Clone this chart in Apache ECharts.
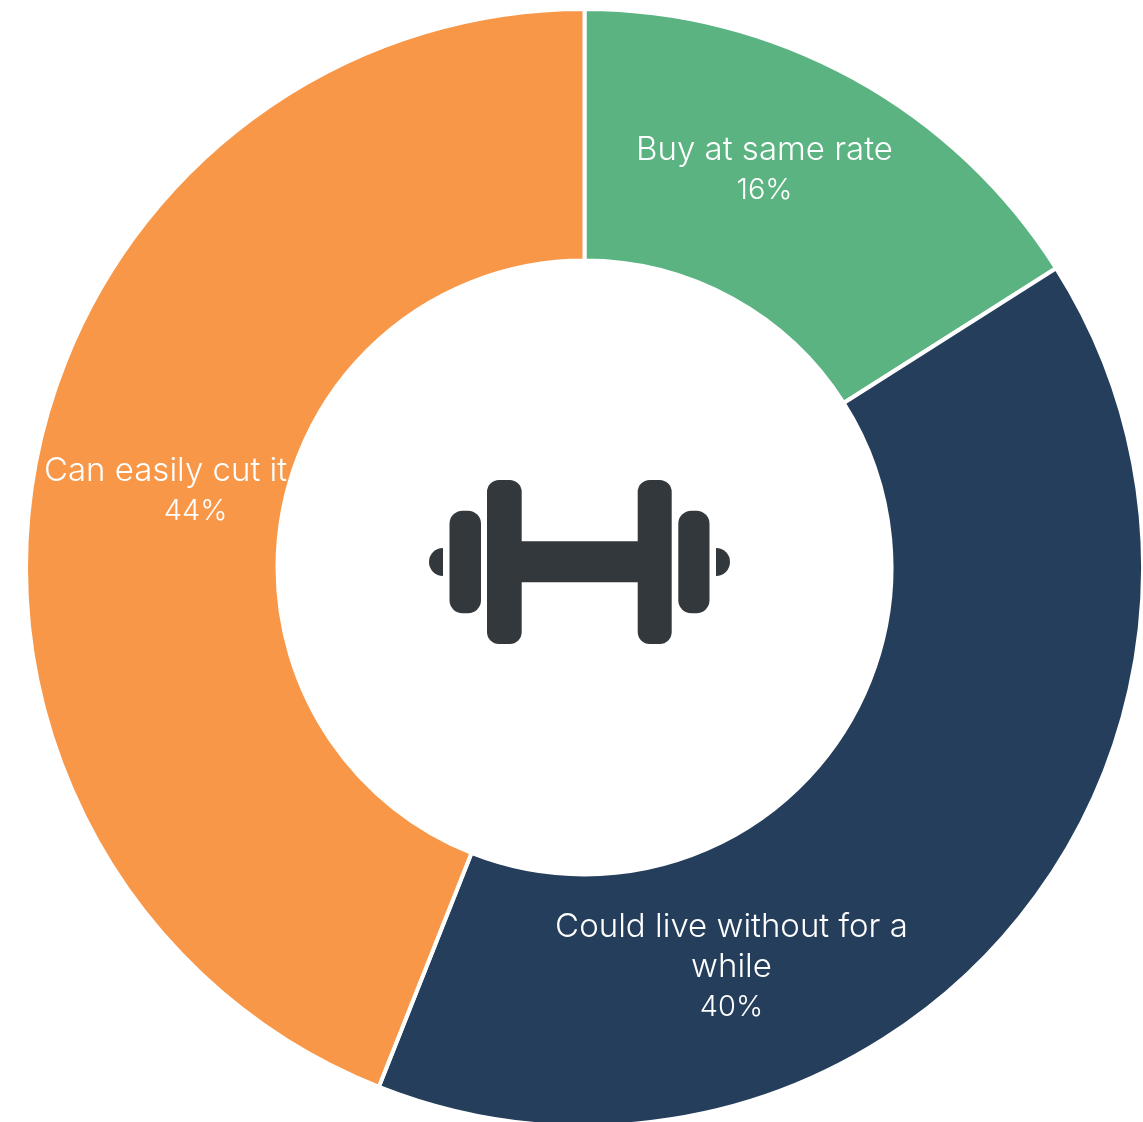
<!DOCTYPE html>
<html>
<head>
<meta charset="utf-8">
<style>html,body{margin:0;padding:0;background:#fff}#c{width:1143px;height:1122px}</style>
<script src="https://cdn.jsdelivr.net/npm/echarts@6/dist/echarts.min.js"></script>
</head>
<body>
<div id="c"></div>
<script>
const categories = ['Buy at same rate', 'Could live without for a\nwhile', 'Can easily cut it'];
const shares = [16, 40, 44];
const colors = ['#5BB381', '#243E5B', '#F89748'];
const labelCentres = [[764.5, 170.5], [731.5, 967.5], [165.5, 491]];
const iconColor = '#33383C';

const chart = echarts.init(document.getElementById('c'), null, {renderer: 'canvas'});
const font = {fontFamily: 'Inter', fontWeight: 300, fontSize: 33, lineHeight: 40, color: '#fff'};
const plate = (x0, x1, y0, y1, r) => ({type: 'rect', shape: {x: x0, y: y0, width: x1 - x0, height: y1 - y0, r}, style: {fill: iconColor}, silent: true});
const cap = (cx, start, end) => ({type: 'sector', shape: {cx, cy: 562, r0: 0, r: 14, startAngle: start, endAngle: end}, style: {fill: iconColor}, silent: true});

chart.setOption({
  animation: false,
  series: [{
    type: 'pie',
    center: [584.5, 567.5],
    radius: [307, 558.5],
    startAngle: 90,
    clockwise: true,
    silent: true,
    itemStyle: {borderColor: '#fff', borderWidth: 4},
    label: {
      show: true,
      position: 'inside',
      formatter: p => '{a|' + p.name.replace('\n', '}\n{a|') + '}\n{' + (p.dataIndex === 2 ? 'b' : 'p') + '|' + p.value + '%}',
      rich: {
        a: {...font},
        p: {...font, fontSize: 29},
        b: {...font, fontSize: 29, padding: [0, 0, 0, 60]}
      }
    },
    labelLine: {show: false},
    labelLayout: p => ({x: labelCentres[p.dataIndex][0], y: labelCentres[p.dataIndex][1], align: 'center', verticalAlign: 'middle'}),
    data: categories.map((name, i) => ({name, value: shares[i], itemStyle: {color: colors[i]}}))
  }],
  graphic: [
    plate(487, 521.7, 480, 644, 12),
    plate(637.7, 671.7, 480, 644, 12),
    plate(521, 638, 541.3, 582.3, 0),
    plate(449.5, 481, 510.7, 613.3, 13),
    plate(678.3, 709.5, 510.7, 613.3, 13),
    cap(443, Math.PI / 2, Math.PI * 1.5),
    cap(716, -Math.PI / 2, Math.PI / 2)
  ]
});
</script>
</body>
</html>
